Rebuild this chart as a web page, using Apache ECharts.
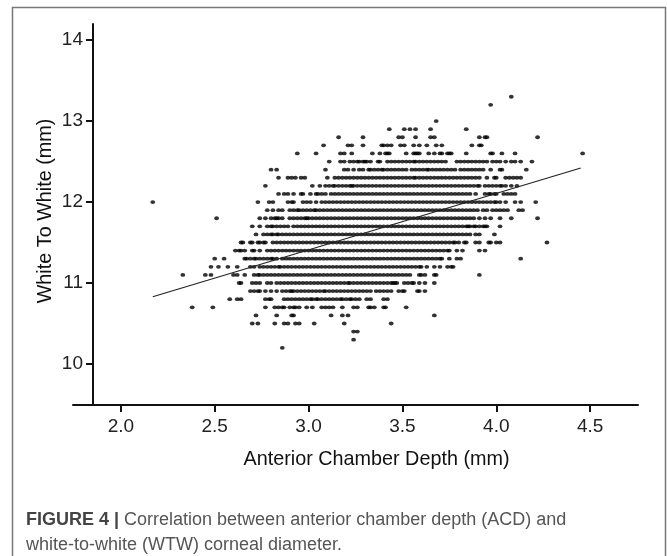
<!DOCTYPE html>
<html><head><meta charset="utf-8">
<style>html,body{margin:0;padding:0;background:#fff}#c{width:667px;height:556px}</style>
<script src="https://cdn.jsdelivr.net/npm/echarts@6/dist/echarts.min.js"></script>
</head><body><div id="c"></div>
<script>
const xTicks=[2.0,2.5,3.0,3.5,4.0,4.5];
const yTicks=[10,11,12,13,14];
const fitLine=[[2.17,10.83],[4.45,12.42]];
const w133=[4.08];
const w132=[3.97];
const w130=[3.68];
const w129=[3.43,3.51,3.54,3.57,3.65,3.84];
const w128=[3.16,3.29,3.48,3.50,3.57,3.65,3.67,3.91,3.94,3.95,4.22];
const w127=[3.08,3.21,3.23,3.29,3.39,3.40,3.42,3.44,3.49,3.51,3.56,3.59,3.63,3.68,3.71,3.87,3.91,3.92];
const w126=[2.94,3.04,3.17,3.19,3.23,3.34,3.38,3.41,3.42,3.43,3.52,3.56,3.57,3.58,3.59,3.64,3.67,3.70,3.71,3.74,3.75,3.76,3.84,3.97,3.98,4.03,4.10,4.46];
const w125=[3.11,3.17,3.19,3.22,3.24,3.26,3.27,3.29,3.30,3.31,3.33,3.37,3.38,3.42,3.44,3.46,3.48,3.50,3.52,3.54,3.56,3.57,3.59,3.61,3.63,3.65,3.67,3.69,3.71,3.73,3.79,3.81,3.83,3.85,3.87,3.89,3.91,3.93,3.95,3.98,4.00,4.02,4.05,4.08,4.10,4.13,4.19];
const w124=[2.80,2.83,3.09,3.19,3.21,3.24,3.27,3.29,3.32,3.33,3.35,3.37,3.39,3.40,3.42,3.44,3.46,3.48,3.50,3.52,3.55,3.57,3.59,3.61,3.63,3.64,3.66,3.68,3.70,3.72,3.74,3.76,3.78,3.81,3.83,3.85,3.87,3.89,3.91,3.93,3.97,4.02,4.03,4.16];
const w123=[2.84,2.89,2.91,2.93,2.96,2.98,3.10,3.14,3.16,3.18,3.20,3.22,3.24,3.26,3.28,3.30,3.32,3.34,3.36,3.38,3.40,3.42,3.44,3.46,3.48,3.50,3.52,3.54,3.56,3.57,3.59,3.61,3.63,3.65,3.67,3.69,3.71,3.73,3.75,3.77,3.79,3.81,3.83,3.85,3.87,3.89,3.91,3.95,3.99,4.00,4.05,4.07,4.09,4.11,4.13];
const w122=[2.77,3.02,3.06,3.09,3.11,3.13,3.14,3.16,3.18,3.20,3.22,3.23,3.24,3.26,3.28,3.30,3.32,3.34,3.36,3.38,3.40,3.42,3.44,3.46,3.48,3.50,3.52,3.54,3.56,3.58,3.60,3.62,3.64,3.66,3.68,3.70,3.72,3.74,3.76,3.78,3.80,3.82,3.84,3.86,3.88,3.90,3.91,3.94,3.96,3.98,4.00,4.02,4.03,4.05,4.08,4.11];
const w121=[2.84,2.87,2.89,2.92,2.96,2.97,3.01,3.04,3.05,3.07,3.09,3.12,3.14,3.16,3.18,3.20,3.22,3.24,3.26,3.28,3.30,3.32,3.34,3.36,3.38,3.40,3.42,3.44,3.46,3.48,3.50,3.52,3.54,3.56,3.58,3.60,3.62,3.64,3.66,3.68,3.70,3.72,3.74,3.76,3.78,3.80,3.82,3.84,3.86,3.89,3.94,3.96,3.97,3.99,4.00,4.04,4.06,4.08,4.10];
const w120=[2.17,2.73,2.79,2.81,2.89,2.91,2.92,2.97,2.99,3.01,3.04,3.07,3.09,3.11,3.13,3.15,3.17,3.19,3.21,3.23,3.25,3.27,3.29,3.31,3.33,3.35,3.37,3.39,3.41,3.43,3.45,3.47,3.49,3.51,3.53,3.55,3.57,3.59,3.61,3.63,3.65,3.67,3.69,3.71,3.73,3.75,3.77,3.79,3.81,3.83,3.85,3.87,3.89,3.91,3.93,3.95,3.97,3.99,4.00,4.02,4.05,4.10,4.13,4.21];
const w119=[2.78,2.81,2.84,2.86,2.90,2.92,2.94,2.95,2.97,2.99,3.01,3.03,3.04,3.06,3.08,3.10,3.12,3.14,3.16,3.18,3.20,3.22,3.24,3.26,3.28,3.30,3.32,3.34,3.36,3.38,3.40,3.42,3.44,3.46,3.48,3.50,3.52,3.54,3.56,3.58,3.60,3.62,3.64,3.66,3.68,3.70,3.72,3.74,3.76,3.78,3.80,3.82,3.84,3.86,3.88,3.90,3.93,3.95,3.98,4.00,4.02,4.04,4.06,4.12,4.14];
const w118=[2.51,2.74,2.77,2.80,2.82,2.83,2.84,2.86,2.90,2.92,2.94,2.96,2.98,2.99,3.00,3.02,3.04,3.06,3.08,3.10,3.12,3.14,3.16,3.18,3.20,3.22,3.24,3.26,3.28,3.30,3.32,3.34,3.36,3.38,3.40,3.42,3.44,3.46,3.48,3.50,3.52,3.54,3.56,3.58,3.60,3.62,3.64,3.66,3.68,3.70,3.72,3.74,3.76,3.78,3.80,3.82,3.84,3.86,3.88,3.91,3.94,3.97,4.02,4.08,4.22];
const w117=[2.70,2.74,2.78,2.80,2.81,2.83,2.85,2.87,2.89,2.92,2.94,2.96,2.98,3.00,3.02,3.04,3.06,3.08,3.10,3.12,3.14,3.16,3.18,3.20,3.22,3.24,3.26,3.28,3.30,3.32,3.34,3.36,3.38,3.40,3.42,3.44,3.46,3.48,3.50,3.52,3.54,3.56,3.58,3.60,3.62,3.64,3.66,3.68,3.70,3.72,3.74,3.76,3.78,3.80,3.82,3.84,3.85,3.86,3.88,3.89,3.91,3.93,3.94,3.95,4.02];
const w116=[2.72,2.76,2.78,2.80,2.81,2.83,2.84,2.86,2.88,2.90,2.92,2.94,2.96,2.98,3.00,3.02,3.04,3.06,3.08,3.10,3.12,3.14,3.16,3.18,3.20,3.22,3.24,3.26,3.28,3.30,3.32,3.34,3.36,3.38,3.40,3.42,3.44,3.46,3.48,3.50,3.52,3.54,3.56,3.58,3.60,3.62,3.64,3.66,3.68,3.70,3.72,3.74,3.76,3.78,3.80,3.82,3.84,3.86,3.89,3.91,3.99];
const w115=[2.64,2.65,2.69,2.70,2.73,2.74,2.76,2.77,2.81,2.83,2.85,2.87,2.89,2.91,2.93,2.95,2.97,2.99,3.01,3.03,3.05,3.07,3.09,3.11,3.13,3.15,3.17,3.19,3.21,3.23,3.25,3.27,3.29,3.31,3.33,3.35,3.37,3.39,3.41,3.43,3.45,3.47,3.49,3.51,3.53,3.55,3.57,3.59,3.61,3.63,3.65,3.67,3.69,3.71,3.73,3.75,3.77,3.78,3.80,3.83,3.84,3.89,3.91,3.96,3.97,4.00,4.02,4.27];
const w114=[2.61,2.63,2.64,2.66,2.70,2.71,2.74,2.78,2.80,2.82,2.84,2.86,2.88,2.90,2.92,2.94,2.96,2.98,3.00,3.02,3.04,3.06,3.08,3.10,3.12,3.14,3.16,3.18,3.20,3.22,3.24,3.26,3.28,3.30,3.32,3.34,3.36,3.38,3.40,3.42,3.44,3.46,3.48,3.50,3.52,3.54,3.56,3.58,3.60,3.62,3.64,3.66,3.68,3.70,3.72,3.74,3.75,3.79,3.82,3.91,3.94];
const w113=[2.50,2.55,2.66,2.67,2.69,2.71,2.72,2.74,2.76,2.78,2.80,2.81,2.83,2.86,2.88,2.90,2.92,2.94,2.96,2.98,3.00,3.02,3.04,3.06,3.08,3.10,3.12,3.14,3.16,3.18,3.20,3.22,3.24,3.26,3.28,3.30,3.32,3.34,3.36,3.38,3.40,3.42,3.44,3.46,3.48,3.50,3.52,3.54,3.56,3.58,3.60,3.62,3.64,3.66,3.68,3.70,3.71,3.75,3.79,3.81,4.13];
const w112=[2.48,2.52,2.57,2.62,2.69,2.71,2.74,2.76,2.78,2.80,2.82,2.84,2.85,2.87,2.89,2.91,2.93,2.95,2.97,2.99,3.01,3.03,3.05,3.07,3.09,3.11,3.13,3.15,3.17,3.19,3.21,3.23,3.25,3.27,3.29,3.31,3.33,3.35,3.37,3.39,3.41,3.43,3.45,3.47,3.49,3.51,3.53,3.55,3.57,3.59,3.60,3.63,3.67,3.70,3.74,3.76,3.77];
const w111=[2.33,2.45,2.48,2.60,2.62,2.66,2.71,2.73,2.74,2.76,2.78,2.80,2.82,2.84,2.86,2.88,2.90,2.92,2.94,2.96,2.98,3.00,3.02,3.04,3.06,3.08,3.10,3.12,3.14,3.16,3.18,3.20,3.22,3.24,3.26,3.28,3.30,3.32,3.34,3.36,3.38,3.40,3.42,3.44,3.46,3.48,3.50,3.52,3.54,3.59,3.60,3.62,3.67,3.68,3.91];
const w110=[2.63,2.64,2.70,2.72,2.74,2.78,2.80,2.83,2.85,2.87,2.89,2.91,2.93,2.95,2.97,2.99,3.01,3.03,3.05,3.07,3.09,3.11,3.13,3.15,3.17,3.19,3.21,3.22,3.24,3.26,3.28,3.30,3.32,3.34,3.36,3.38,3.40,3.42,3.44,3.45,3.46,3.47,3.51,3.53,3.55,3.56,3.59,3.62,3.67];
const w109=[2.69,2.71,2.73,2.74,2.77,2.80,2.83,2.86,2.88,2.90,2.91,2.92,2.94,2.96,2.98,3.00,3.02,3.04,3.06,3.08,3.09,3.11,3.13,3.15,3.17,3.19,3.21,3.23,3.25,3.27,3.29,3.31,3.33,3.36,3.38,3.40,3.42,3.44,3.48,3.50,3.51,3.58,3.59,3.62];
const w108=[2.58,2.62,2.64,2.77,2.79,2.80,2.87,2.89,2.91,2.93,2.95,2.97,2.99,3.01,3.02,3.04,3.05,3.07,3.09,3.11,3.13,3.15,3.17,3.18,3.20,3.22,3.23,3.25,3.27,3.31,3.33,3.40,3.42];
const w107=[2.38,2.49,2.77,2.82,2.84,2.86,2.87,2.90,2.92,2.93,2.95,2.99,3.02,3.07,3.09,3.11,3.13,3.18,3.24,3.26,3.32,3.33,3.35,3.40,3.41,3.52];
const w106=[2.72,2.83,2.91,2.92,3.12,3.18,3.21,3.67];
const w105=[2.70,2.73,2.82,2.87,2.89,2.93,2.95,3.03,3.19,3.44];
const w104=[3.24,3.26];
const w103=[3.24];
const w102=[2.86];
const rows=[[13.3,w133],[13.2,w132],[13.0,w130],[12.9,w129],[12.8,w128],[12.7,w127],[12.6,w126],[12.5,w125],[12.4,w124],[12.3,w123],[12.2,w122],[12.1,w121],[12.0,w120],[11.9,w119],[11.8,w118],[11.7,w117],[11.6,w116],[11.5,w115],[11.4,w114],[11.3,w113],[11.2,w112],[11.1,w111],[11.0,w110],[10.9,w109],[10.8,w108],[10.7,w107],[10.6,w106],[10.5,w105],[10.4,w104],[10.3,w103],[10.2,w102]];
const points=[];
rows.forEach(([w,list])=>list.forEach(a=>points.push([a,w])));
const font='"Liberation Sans",Arial,Helvetica,sans-serif';
const chart=echarts.init(document.getElementById('c'),null,{renderer:'canvas'});
chart.setOption({
  animation:false,
  backgroundColor:'#fff',
  grid:{left:73,right:29,top:24,bottom:151,containLabel:false},
  xAxis:{type:'value',min:1.745,max:4.755,
    name:'Anterior Chamber Depth (mm)',nameLocation:'middle',nameGap:45,
    nameTextStyle:{fontFamily:font,fontSize:19.8,color:'#111',padding:[0,0,0,42]},
    splitLine:{show:false},
    axisLine:{lineStyle:{color:'#111',width:2}},
    axisTick:{customValues:xTicks,length:7,lineStyle:{color:'#111',width:2}},
    axisLabel:{customValues:xTicks,margin:12,fontFamily:font,fontSize:19,color:'#222',formatter:v=>v.toFixed(1)}},
  yAxis:{type:'value',min:9.494,max:14.198,offset:-20,
    name:'White To White (mm)',nameLocation:'middle',nameGap:37,nameMoveOverlap:false,
    nameTextStyle:{fontFamily:font,fontSize:19.8,color:'#111',padding:[0,0,0,7]},
    splitLine:{show:false},
    axisLine:{show:true,onZero:false,lineStyle:{color:'#111',width:2}},
    axisTick:{show:true,customValues:yTicks,length:7,lineStyle:{color:'#111',width:2}},
    axisLabel:{customValues:yTicks,margin:10,fontFamily:font,fontSize:19,color:'#222',formatter:v=>String(v)}},
  series:[
    {type:'scatter',name:'Eyes',data:points,symbol:'circle',symbolSize:[4.8,3.8],itemStyle:{color:'#000'},silent:true,large:false,clip:false},
    {type:'line',name:'Fit',data:fitLine,showSymbol:false,lineStyle:{color:'#222',width:1.2},silent:true,z:5}
  ],
  graphic:[
    {type:'rect',shape:{x:12.5,y:7.5,width:653,height:560},style:{fill:'none',stroke:'#777',lineWidth:1.5},silent:true},
    {type:'text',left:26,top:508,style:{text:'{b|FIGURE 4 |} Correlation between anterior chamber depth (ACD) and\nwhite-to-white (WTW) corneal diameter.',
      rich:{b:{fontFamily:font,fontSize:18,fontWeight:'bold',fill:'#444',lineHeight:25}},
      fontFamily:font,fontSize:18,fill:'#555',lineHeight:25},silent:true}
  ]
});
</script></body></html>
